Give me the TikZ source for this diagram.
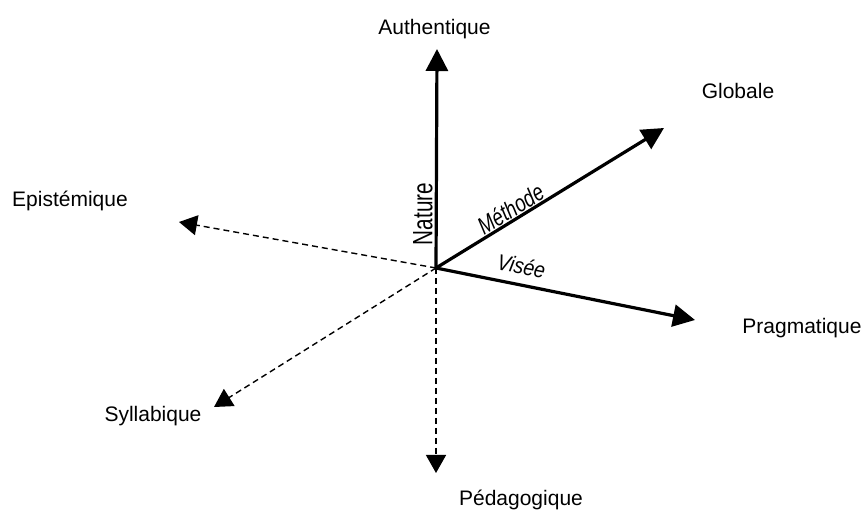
\documentclass[tikz,border=0pt]{standalone}
\usepackage{fontspec}
\setmainfont{Liberation Sans}
\usetikzlibrary{arrows.meta}
\begin{document}
\begin{tikzpicture}[x=1pt,y=-1pt,
  lbl/.style={font=\fontsize{21}{24}\selectfont, inner sep=0pt, anchor=base},
  solidax/.style={line width=3.2pt, -{Triangle[length=22pt,width=22pt]}},
  dashax/.style={line width=1.4pt, dash pattern=on 6pt off 4pt, -{Triangle[length=18pt,width=20pt]}}]
\useasboundingbox (0,0) rectangle (865,510);
\coordinate (O) at (436,268);
\coordinate (tA) at (437,49);
\coordinate (tG) at (664,128);
\coordinate (tP) at (695,320);
\coordinate (tE) at (179,222);
\coordinate (tS) at (214,407);
\coordinate (tD) at (436,473);
\node[lbl] (authentique) at (434.5,35) {Authentique};
\node[lbl] (globale) at (738,99) {Globale};
\node[lbl] (pragmatique) at (802,334) {Pragmatique};
\node[lbl] (epistemique) at (70,207) {Epistémique};
\node[lbl] (syllabique) at (153,421) {Syllabique};
\node[lbl] (pedagogique) at (521,505) {Pédagogique};
\draw[dashax] (O) -- (tE);
\draw[dashax] (O) -- (tS);
\draw[dashax] (O) -- (tD);
\draw[solidax] (O) -- (tA);
\draw[solidax] (O) -- (tG);
\draw[solidax] (O) -- (tP);
\node[inner sep=0pt, rotate=90, font=\fontsize{20.7}{24}\selectfont] (nature) at (423,214) {\scalebox{1}[1.35]{Nature}};
\node[inner sep=0pt, rotate=31.5, font=\fontsize{18.7}{22}\selectfont\itshape] (methode) at (510.5,209) {\scalebox{1}[1.3]{Méthode}};
\node[inner sep=0pt, rotate=-11.6, font=\fontsize{19.5}{22}\selectfont\itshape] (visee) at (521.5,266) {\scalebox{1}[1.15]{Visée}};
\end{tikzpicture}
\end{document}
